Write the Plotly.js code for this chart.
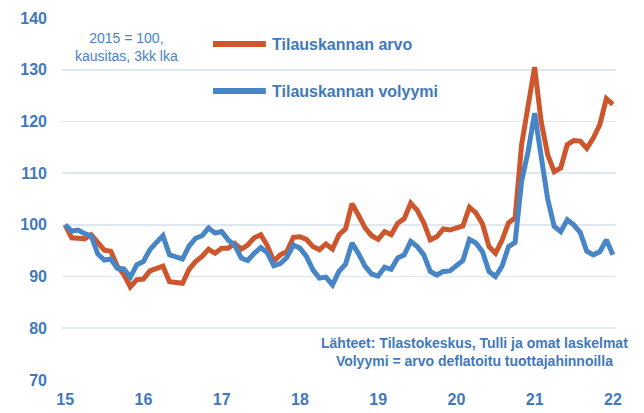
<!DOCTYPE html>
<html>
<head>
<meta charset="utf-8">
<script src="https://cdn.plot.ly/plotly-3.0.1.min.js"></script>
<style>
  html, body { margin: 0; padding: 0; background: #ffffff; }
  #chart { width: 644px; height: 413px; }
</style>
</head>
<body>
<div id="chart"></div>
<script>
// Monthly observations, Jan 2015 .. Jan 2022 (85 months)
const startYear = 15;
const arvo = [100, 97.5, 97.4, 97.3, 98.1, 96.5, 95.1, 94.9, 92.0, 90.4,
  88.0, 89.4, 89.5, 91.1, 91.6, 92.0, 89.0, 88.8, 88.7, 91.4,
  92.9, 93.9, 95.3, 94.5, 95.5, 95.5, 96.4, 95.3, 96.1, 97.5,
  98.1, 96.0, 93.0, 94.2, 94.8, 97.6, 97.7, 97.2, 95.8, 95.2,
  96.3, 95.3, 98.1, 99.2, 104.1, 101.8, 99.4, 97.9, 97.2, 98.7,
  98.1, 100.3, 101.2, 104.2, 102.8, 100.4, 97.1, 97.7, 99.2, 99.0,
  99.4, 99.8, 103.4, 102.3, 100.2, 95.8, 94.5, 97.0, 100.4, 101.3,
  115.5, 123.0, 130.5, 120.0, 113.6, 110.3, 111.0, 115.5, 116.3, 116.2,
  114.8, 116.8, 119.4, 124.4, 123.3];
const volyymi = [100, 98.8, 99.0, 98.3, 97.9, 94.4, 93.2, 93.4, 91.6, 91.5,
  89.9, 92.3, 92.9, 95.2, 96.6, 97.9, 94.2, 93.7, 93.4, 95.9,
  97.4, 97.9, 99.4, 98.4, 98.7, 97.1, 96.1, 93.6, 93.1, 94.5,
  95.6, 94.6, 92.1, 92.5, 93.7, 96.1, 95.5, 93.9, 91.3, 89.7,
  89.9, 88.4, 91.0, 92.4, 96.5, 94.4, 92.0, 90.5, 90.1, 91.8,
  91.4, 93.6, 94.2, 96.8, 95.8, 94.2, 91.0, 90.3, 91.0, 91.1,
  92.1, 93.1, 97.2, 96.5, 94.8, 91.0, 90.0, 92.0, 95.8, 96.6,
  108.4, 114.2, 121.6, 113.0, 105.0, 99.7, 98.7, 101.0, 100.0, 98.5,
  94.9, 94.2, 94.8, 97.1, 94.2];
const xTickVals = [15, 16, 17, 18, 19, 20, 21, 22];
const xTickText = ['15', '16', '17', '18', '19', '20', '21', '22'];
const yTickVals = [70, 80, 90, 100, 110, 120, 130, 140];
const seriesNames = ['Tilauskannan arvo', 'Tilauskannan volyymi'];
const noteText = '2015 = 100,<br>kausitas, 3kk lka';
const sourceText = 'Lähteet: Tilastokeskus, Tulli ja omat laskelmat<br>Volyymi = arvo deflatoitu tuottajahinnoilla';

const months = arvo.map((_, i) => startYear + i / 12);

const ORANGE = '#CD562C';
const BLUE = '#4885C6';
const TEXT = '#3F79BC';
const GRID = '#DFE7F1';
const FONT = 'Liberation Sans, Arial, sans-serif';

const traces = [
  { x: months, y: arvo, type: 'scatter', mode: 'lines', name: seriesNames[0],
    line: { color: ORANGE, width: 5 }, hoverinfo: 'skip' },
  { x: months, y: volyymi, type: 'scatter', mode: 'lines', name: seriesNames[1],
    line: { color: BLUE, width: 5 }, hoverinfo: 'skip' }
];

const layout = {
  width: 644, height: 413,
  margin: { l: 62, r: 28, t: 18, b: 33 },
  paper_bgcolor: '#ffffff', plot_bgcolor: '#ffffff',
  showlegend: false,
  font: { family: FONT, color: TEXT },
  xaxis: {
    range: [14.96, 22.04],
    tickvals: xTickVals, ticktext: xTickText,
    showgrid: false, zeroline: false, showline: false, ticks: '',
    tickfont: { family: FONT, size: 16, color: TEXT, weight: 'bold' },
    ticklabelstandoff: 8,
    automargin: false
  },
  yaxis: {
    range: [70, 140],
    tickvals: yTickVals,
    showgrid: true, gridcolor: GRID, gridwidth: 1.6,
    zeroline: false, showline: false, ticks: '',
    tickfont: { family: FONT, size: 16, color: TEXT, weight: 'bold' },
    ticklabelstandoff: 14,
    automargin: false
  },
  shapes: [
    { type: 'line', xref: 'paper', yref: 'paper', x0: 0.2726, x1: 0.368, y0: 0.928, y1: 0.928,
      line: { color: ORANGE, width: 6 } },
    { type: 'line', xref: 'paper', yref: 'paper', x0: 0.2726, x1: 0.368, y0: 0.798, y1: 0.798,
      line: { color: BLUE, width: 6 } }
  ],
  annotations: [
    { xref: 'paper', yref: 'paper', x: 0.3755, y: 0.928, xanchor: 'left', yanchor: 'middle',
      text: seriesNames[0], showarrow: false,
      font: { family: FONT, size: 16, color: TEXT, weight: 'bold' } },
    { xref: 'paper', yref: 'paper', x: 0.3755, y: 0.798, xanchor: 'left', yanchor: 'middle',
      text: seriesNames[1], showarrow: false,
      font: { family: FONT, size: 16, color: TEXT, weight: 'bold' } },
    { xref: 'paper', yref: 'paper', x: 0.117, y: 0.919, xanchor: 'center', yanchor: 'middle',
      text: noteText, showarrow: false, align: 'center',
      font: { family: FONT, size: 14, color: '#4A82C2' } },
    { xref: 'paper', yref: 'paper', x: 0.7437, y: 0.076, xanchor: 'center', yanchor: 'middle',
      text: sourceText, showarrow: false, align: 'center',
      font: { family: FONT, size: 14, color: TEXT, weight: 'bold' } }
  ]
};

Plotly.newPlot('chart', traces, layout, { staticPlot: true, displayModeBar: false });
</script>
</body>
</html>
